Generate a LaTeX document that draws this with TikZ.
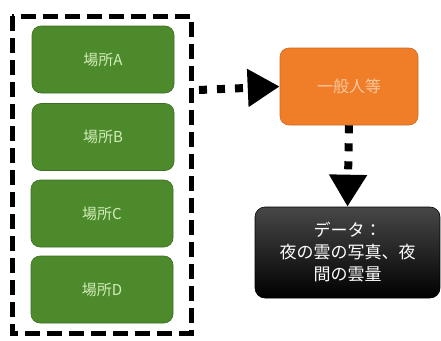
\documentclass[tikz,border=0pt]{standalone}
\usepackage{fontspec}
\setmainfont{Noto Sans CJK JP}
\usetikzlibrary{arrows.meta}
\definecolor{grn}{HTML}{4C8A2C}
\definecolor{grntxt}{HTML}{D2EDB8}
\definecolor{org}{HTML}{F07E28}
\definecolor{orgtxt}{HTML}{F9C9A0}
\tikzset{
  placebox/.style={draw=grn!80!black, line width=0.6pt, fill=grn, rounded corners=9pt, text=grntxt, font=\fontsize{15}{18}\selectfont},
  dotarrow/.style={line width=8pt, dash pattern=on 8pt off 10pt, -{Triangle[length=32pt,width=36pt]}},
}
\begin{document}
\begin{tikzpicture}[x=1pt,y=-1pt]
\useasboundingbox (0,0) rectangle (441,340);
% outer dashed frame
\draw[line width=5pt, dash pattern=on 15pt off 7pt] (12,16) rectangle (191,333);
% places
\node[placebox, minimum width=142pt, minimum height=67pt] (a) at (103,59.5) {場所A};
\node[placebox, minimum width=142pt, minimum height=67pt] (b) at (103,137) {場所B};
\node[placebox, minimum width=142pt, minimum height=67pt] (c) at (102,213.5) {場所C};
\node[placebox, minimum width=142pt, minimum height=67pt] (d) at (102,289.5) {場所D};
% orange box
\node[draw=org!85!black, line width=0.6pt, fill=org, rounded corners=9pt, minimum width=138pt, minimum height=77pt, text=orgtxt, font=\fontsize{16}{19}\selectfont] (o) at (349,86.5) {一般人等};
% black box
\node[draw=black, line width=0.6pt, rounded corners=10pt, top color=black!72, bottom color=black, minimum width=185pt, minimum height=91pt, text=white, align=center, inner sep=2pt, font=\fontsize{17}{22}\selectfont] (k) at (347.5,252.5) {データ：\\夜の雲の写真、夜\\間の雲量};
\coordinate (s) at (199,90);
\draw[dotarrow] (s) -- (o.west);
\draw[dotarrow] (o.south) -- (k.north);
\end{tikzpicture}
\end{document}
